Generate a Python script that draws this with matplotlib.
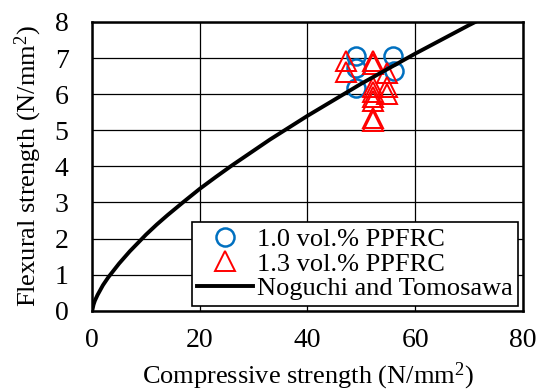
import numpy as np
import matplotlib
matplotlib.use("Agg")
import matplotlib.pyplot as plt

plt.rcParams['font.family'] = ['Liberation Serif', 'DejaVu Serif']
plt.rcParams['mathtext.fontset'] = 'custom'
plt.rcParams['mathtext.rm'] = 'Liberation Serif'
plt.rcParams['mathtext.it'] = 'Liberation Serif:italic'

# 1.0 vol.% PPFRC
fc_10 = [49.0, 49.1, 49.1, 55.8, 56.0]
fb_10 = [7.05, 6.73, 6.18, 7.05, 6.64]

# 1.3 vol.% PPFRC
fc_13 = [47.1, 47.1, 52.1, 52.1, 54.8, 54.8, 54.8, 52.2, 52.2, 52.2, 52.2, 52.2, 52.2]
fb_13 = [6.93, 6.60, 6.93, 6.83, 6.58, 6.20, 6.00, 6.19, 6.05, 5.91, 5.81, 5.34, 5.26]

# Noguchi and Tomosawa curve
fc_nt = [0, 0.25, 0.5, 1, 2, 3, 5, 7, 10, 12, 14, 17, 20, 23, 26, 33, 40, 50, 60, 70, 80]
fb_nt = [0, 0.17, 0.28, 0.44, 0.71, 0.93, 1.31, 1.65, 2.11, 2.39, 2.65, 3.02, 3.38,
         3.71, 4.03, 4.74, 5.40, 6.29, 7.12, 7.91, 8.66]

fig = plt.figure(figsize=(5.39, 3.91), dpi=100)
ax = fig.add_axes([0.171, 0.205, 0.799, 0.739])

ax.plot(fc_10, fb_10, 'o', ms=13, mfc='none', mec='#0070C0', mew=1.8,
        label='1.0 vol.% PPFRC', zorder=3)
ax.plot(fc_13, fb_13, '^', ms=15, mfc='none', mec='#FF0000', mew=1.4,
        label='1.3 vol.% PPFRC', zorder=4)
ax.plot(fc_nt, fb_nt, '-', color='black', lw=2.8,
        label='Noguchi and Tomosawa', zorder=5)

ax.set_xlim(0, 80)
ax.set_ylim(0, 8)
ax.set_xticks([0, 20, 40, 60, 80])
ax.set_yticks(range(0, 9))
ax.grid(True, color='black', lw=0.9)
ax.set_axisbelow(True)
ax.tick_params(length=0, labelsize=20)
ax.tick_params(axis='x', pad=12)
ax.tick_params(axis='y', pad=17)
for s in ax.spines.values():
    s.set_linewidth(1.8)

ax.set_xlabel('Compressive strength (N/mm$^2$)', fontsize=19, labelpad=6)
ax.set_ylabel('Flexural strength (N/mm$^2$)', fontsize=19, labelpad=8)

leg = ax.legend(loc='lower right', bbox_to_anchor=(0.988, 0.018), borderaxespad=0,
                fontsize=19, fancybox=False, edgecolor='black', framealpha=1,
                handlelength=2.1, handletextpad=0.15, labelspacing=0.05,
                borderpad=0.2)
leg.get_frame().set_linewidth(1.2)

fig.savefig('out.png', dpi=100)
